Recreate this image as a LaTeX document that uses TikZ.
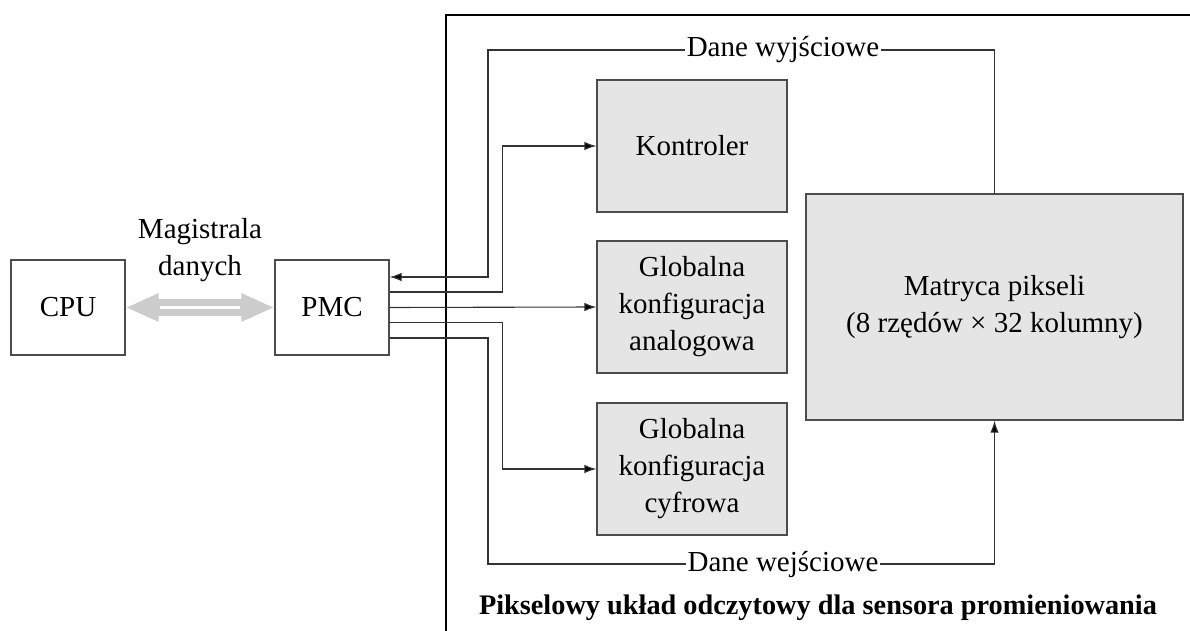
\documentclass[tikz,border=0pt]{standalone}
\usepackage{fontspec}
\setmainfont{Liberation Serif}
\usetikzlibrary{arrows.meta,calc}

\begin{document}
\begin{tikzpicture}[x=1pt,y=-1pt,
  every node/.style={font=\fontsize{29}{37}\selectfont},
  plainbox/.style={draw=black!70,line width=1.2pt,fill=white,minimum width=114pt,minimum height=95pt,inner sep=0pt},
  blockbox/.style={draw=black!70,line width=1.2pt,fill=black!10,align=center,inner sep=0pt},
  conn/.style={draw=black!80,line width=1.1pt},
  tip/.style={-{Latex[length=12pt,width=8.5pt,fill=black]}},
  lbl/.style={fill=white,inner xsep=2pt,inner ysep=1pt}]

\useasboundingbox (0,0) rectangle (1190,631);

% chip outline, running past the page edges
\begin{scope}
  \clip (0,0) rectangle (1190,631);
  \draw[line width=2pt] (446,14.7) rectangle (1300,700);
\end{scope}
\node[font=\fontsize{28.3}{36}\selectfont\bfseries] (title) at (818,608) {Pikselowy układ odczytowy dla sensora promieniowania};

% host side
\node[plainbox] (cpu) at (68,307.5) {CPU};
\node[plainbox] (pmc) at (332,307.5) {PMC};
\node[align=center] (bus) at (200,250) {Magistrala\\danych};

% data bus
\draw[draw=black!20,line width=17pt,
  {Triangle[length=33pt,width=26pt]}-{Triangle[length=33pt,width=26pt]}]
  (cpu.east) -- (pmc.west);
\draw[white,line width=2.5pt,shorten <=34pt,shorten >=34pt] (cpu.east) -- (pmc.west);

% blocks inside the chip
\node[blockbox,minimum width=190pt,minimum height=132pt] (kon) at (692,146) {Kontroler};
\node[blockbox,minimum width=190pt,minimum height=132pt] (ana) at (692,307) {Globalna\\konfiguracja\\analogowa};
\node[blockbox,minimum width=190pt,minimum height=132pt] (cyf) at (692,469) {Globalna\\konfiguracja\\cyfrowa};
\node[blockbox,minimum width=377pt,minimum height=226pt] (mat) at (994.5,307) {Matryca pikseli\\(8 rzędów × 32 kolumny)};

% PMC ports
\coordinate (o1) at ($(pmc.east)+(0,-30.5)$);
\coordinate (o2) at ($(pmc.east)+(0,-15.5)$);
\coordinate (o4) at ($(pmc.east)+(0,15)$);
\coordinate (o5) at ($(pmc.east)+(0,30.5)$);

% connections
\draw[conn,tip] (mat.north) |- (488,50) |- (o1);
\draw[conn,tip] (o2) -| ($(kon.west)+(-94,0)$) -- (kon.west);
\draw[conn,tip] (pmc.east) -- (ana.west);
\draw[conn,tip] (o4) -| ($(cyf.west)+(-94,0)$) -- (cyf.west);
\draw[conn,tip] (o5) -| (488,564) -| (mat.south);

\node[lbl] (wyj) at (783,50) {Dane wyjściowe};
\node[lbl] (wej) at (783,564) {Dane wejściowe};

\end{tikzpicture}
\end{document}
